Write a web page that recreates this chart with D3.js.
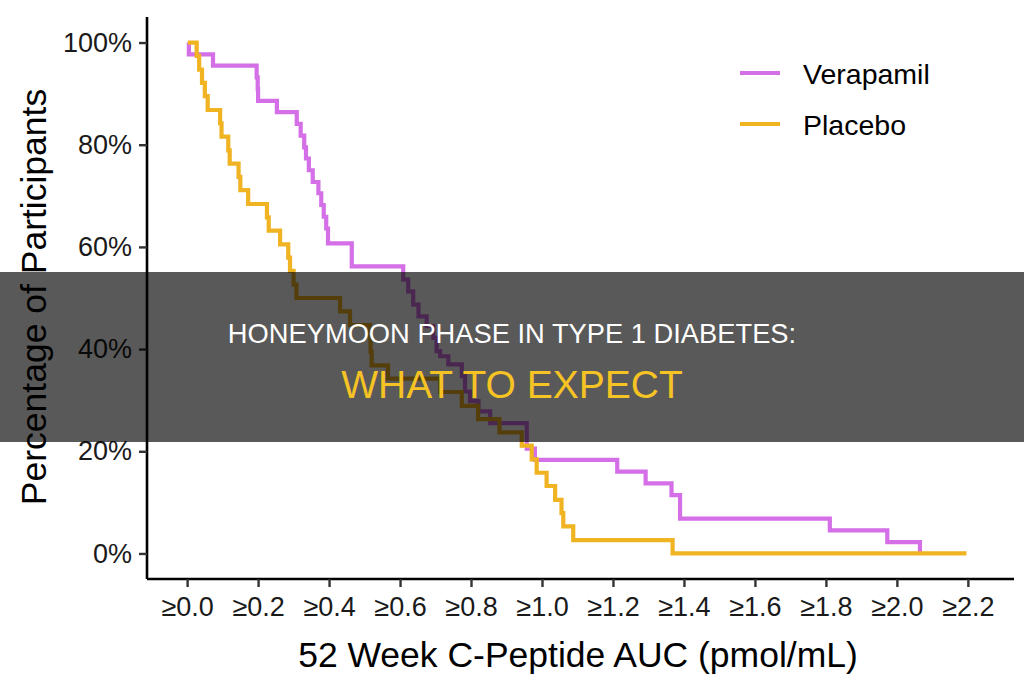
<!DOCTYPE html>
<html>
<head>
<meta charset="utf-8">
<script src="https://cdn.jsdelivr.net/npm/d3@7"></script>
<style>
  body { margin: 0; background: #fff; }
  svg { display: block; font-family: "Liberation Sans", Arial, sans-serif; }
</style>
</head>
<body>
<svg id="chart" width="1024" height="682"></svg>
<script>
// values (AUC threshold, % of participants still above it)
const verapamilAuc = [0.005, 0.005, 0.073, 0.196, 0.199, 0.2, 0.253, 0.309, 0.32, 0.33, 0.335, 0.343, 0.354, 0.37, 0.378, 0.385, 0.392, 0.397, 0.464,
  0.609, 0.623, 0.637, 0.652, 0.675, 0.694, 0.703, 0.713, 0.736, 0.774, 0.783, 0.797, 0.821, 0.854, 0.957, 0.98,
  1.212, 1.292, 1.365, 1.389, 1.811, 1.973, 2.065];
const verapamilPct = [100, 97.7, 95.5, 93.2, 90.9, 88.6, 86.4, 84.1, 81.8, 79.5, 77.3, 75.0, 72.7, 70.5, 68.2, 65.9, 63.6, 60.7, 56.2,
  53.6, 51.3, 48.7, 46.4, 44.5, 42.2, 39.6, 38.6, 37.0, 34.7, 31.7, 29.8, 27.8, 25.5, 20.5, 18.3,
  16.0, 13.7, 11.4, 6.8, 4.5, 2.2, 0];

const placeboAuc = [0.002, 0.027, 0.034, 0.042, 0.05, 0.058, 0.093, 0.097, 0.116, 0.12, 0.145, 0.15, 0.172, 0.225, 0.23, 0.262, 0.285, 0.29,
  0.3, 0.308, 0.431, 0.459, 0.515, 0.517, 0.52, 0.566, 0.713, 0.774, 0.82, 0.88, 0.943, 0.971, 0.985, 1.013, 1.037, 1.055, 1.06, 1.088,
  1.368, 2.196];
const placeboPct = [100, 97.4, 94.7, 92.1, 89.5, 86.8, 84.2, 81.6, 78.9, 76.3, 73.7, 71.1, 68.4, 65.8, 63.2, 60.5, 57.9, 55.3,
  52.6, 50.0, 47.4, 44.7, 42.1, 39.5, 36.8, 34.2, 31.6, 28.9, 26.3, 23.7, 21.1, 18.4, 15.8, 13.2, 10.5, 7.9, 5.3, 2.6,
  0, 0];

const seriesNames = ['Verapamil', 'Placebo'];
const seriesColors = ['#d46fe7', '#f0b322'];
const xTicks = [0, 0.2, 0.4, 0.6, 0.8, 1.0, 1.2, 1.4, 1.6, 1.8, 2.0, 2.2];
const yTicks = [0, 20, 40, 60, 80, 100];

const svg = d3.select('#chart');
const m = { left: 147, right: 1014, top: 17, bottom: 579 };

const x = d3.scaleLinear().domain([-0.113, 2.33]).range([m.left, m.right]);
const y = d3.scaleLinear().domain([-5, 105]).range([m.bottom, m.top]);

const series = [
  { name: seriesNames[0], color: seriesColors[0], pts: verapamilAuc.map((a, i) => [a, verapamilPct[i]]) },
  { name: seriesNames[1], color: seriesColors[1], pts: placeboAuc.map((a, i) => [a, placeboPct[i]]) }
];

const line = d3.line()
  .x(d => x(d[0]))
  .y(d => y(d[1]))
  .curve(d3.curveStepAfter);

// x axis
const xAxis = svg.append('g')
  .attr('transform', `translate(0,${m.bottom})`)
  .call(d3.axisBottom(x).tickValues(xTicks).tickSize(8).tickPadding(10)
    .tickFormat(d => '≥' + d3.format('.1f')(d)));
xAxis.select('.domain').attr('stroke', '#000').attr('stroke-width', 2.6)
  .attr('d', `M${m.left},0H${m.right}`);
xAxis.selectAll('.tick line').attr('stroke', '#333').attr('stroke-width', 2.4);
xAxis.selectAll('.tick text').attr('font-size', 27).attr('fill', '#1a1a1a')
  .attr('font-family', '"Liberation Sans", Arial, sans-serif');

// y axis
const yAxis = svg.append('g')
  .attr('transform', `translate(${m.left},0)`)
  .call(d3.axisLeft(y).tickValues(yTicks).tickSize(8).tickPadding(7)
    .tickFormat(d => d + '%'));
yAxis.select('.domain').attr('stroke', '#000').attr('stroke-width', 2.6)
  .attr('d', `M0,${m.top}V${m.bottom}`);
yAxis.selectAll('.tick line').attr('stroke', '#333').attr('stroke-width', 2.4);
yAxis.selectAll('.tick text').attr('font-size', 27).attr('fill', '#1a1a1a')
  .attr('font-family', '"Liberation Sans", Arial, sans-serif');

// axis titles
svg.append('text')
  .attr('x', 578).attr('y', 667)
  .attr('text-anchor', 'middle')
  .attr('font-size', 35.5)
  .attr('fill', '#000')
  .text('52 Week C-Peptide AUC (pmol/mL)');

svg.append('text')
  .attr('transform', 'translate(46,297) rotate(-90)')
  .attr('text-anchor', 'middle')
  .attr('font-size', 35.5)
  .attr('fill', '#000')
  .text('Percentage of Participants');

// step lines
svg.selectAll('.curve')
  .data(series)
  .enter()
  .append('path')
  .attr('class', 'curve')
  .attr('d', d => line(d.pts))
  .attr('fill', 'none')
  .attr('stroke', d => d.color)
  .attr('stroke-width', 4.2)
  .attr('stroke-linejoin', 'miter');

// legend
const legend = svg.selectAll('.legend')
  .data(series)
  .enter()
  .append('g')
  .attr('class', 'legend')
  .attr('transform', (d, i) => 'translate(740,' + (73 + i * 51) + ')');
legend.append('line')
  .attr('x1', 0).attr('x2', 40)
  .attr('stroke', d => d.color)
  .attr('stroke-width', 4.2);
legend.append('text')
  .attr('x', 63).attr('y', 11)
  .attr('font-size', 28.5)
  .attr('fill', '#000')
  .text(d => d.name);

// dark caption band
svg.append('rect')
  .attr('x', 0).attr('y', 272)
  .attr('width', 1024).attr('height', 170)
  .attr('fill', 'rgba(0,0,0,0.65)');

svg.append('text')
  .attr('x', 512).attr('y', 343)
  .attr('text-anchor', 'middle')
  .attr('font-size', 27.3)
  .attr('fill', '#ffffff')
  .text('HONEYMOON PHASE IN TYPE 1 DIABETES:');

svg.append('text')
  .attr('x', 512).attr('y', 398)
  .attr('text-anchor', 'middle')
  .attr('font-size', 39)
  .attr('fill', '#f6c324')
  .text('WHAT TO EXPECT');
</script>
</body>
</html>
